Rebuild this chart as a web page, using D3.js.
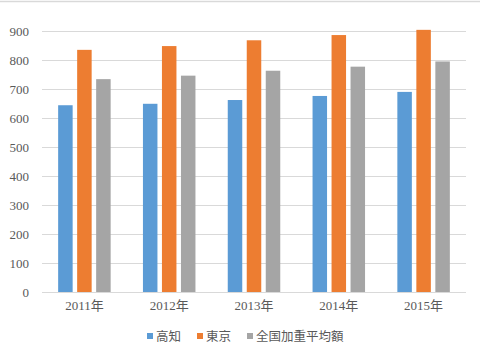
<!DOCTYPE html>
<html><head><meta charset="utf-8">
<script src="https://cdn.jsdelivr.net/npm/d3@7/dist/d3.min.js"></script>
<style>body{margin:0;background:#fff}svg{display:block}</style>
</head><body>
<svg id="c" width="480" height="357"></svg>
<script>
const categories = ["2011年","2012年","2013年","2014年","2015年"];
const seriesNames = ["高知","東京","全国加重平均額"];
const kochi = [644, 649, 662, 676, 690];
const tokyo = [835, 848, 868, 886, 904];
const national = [734, 746, 763, 777, 795];
const yTicks = [0,100,200,300,400,500,600,700,800,900];
const colors = ["#5B9BD5","#ED7D31","#A5A5A5"];
const series = [kochi, tokyo, national];

const svg = d3.select("#c");
const W = 480, H = 357;
const m = {l:42, r:14, t:31, b:65};
const x = d3.scaleBand().domain(categories).range([m.l, W - m.r]).paddingInner(0).paddingOuter(0);
const y = d3.scaleLinear().domain([0,900]).range([H - m.b, m.t]);

svg.append("line").attr("x1",0).attr("x2",W).attr("y1",1.5).attr("y2",1.5)
  .attr("stroke","#d9d9d9").attr("stroke-width",1.5);

const font = "'Liberation Serif', 'Noto Sans CJK JP', serif";

// gridlines
svg.append("g").selectAll("line").data(yTicks).join("line")
  .attr("x1", m.l).attr("x2", W - m.r)
  .attr("y1", d => Math.round(y(d)) + 0.5).attr("y2", d => Math.round(y(d)) + 0.5)
  .attr("stroke","#d9d9d9").attr("stroke-width",1);

// y axis labels
const yAxis = d3.axisLeft(y).tickValues(yTicks).tickSize(0).tickPadding(13);
const ya = svg.append("g").attr("transform",`translate(${m.l},0)`).call(yAxis);
ya.select(".domain").remove();
ya.selectAll("text").attr("font-family",font).attr("font-size","13px").attr("fill","#595959");

// x axis labels
const xAxis = d3.axisBottom(x).tickSize(0).tickPadding(9);
const xa = svg.append("g").attr("transform",`translate(0,${H - m.b})`).call(xAxis);
xa.select(".domain").remove();
xa.selectAll("text").attr("font-family",font).attr("font-size","13px").attr("fill","#595959");

// bars
const bw = x.bandwidth(), groupW = 52.5;
const inner = d3.scaleBand().domain(d3.range(3))
  .range([(bw - groupW) / 2, (bw + groupW) / 2]).paddingInner(0.237).paddingOuter(0);
series.forEach((vals, si) => {
  svg.append("g").selectAll("rect").data(vals).join("rect")
    .attr("x", (d,i) => x(categories[i]) + inner(si))
    .attr("width", inner.bandwidth())
    .attr("y", d => y(d))
    .attr("height", d => y(0) - y(d))
    .attr("fill", colors[si]);
});

// legend
const legendX = [147, 197, 247];
const lg = svg.append("g");
seriesNames.forEach((n, i) => {
  lg.append("rect").attr("x", legendX[i]).attr("y", 333).attr("width", 6).attr("height", 6).attr("fill", colors[i]);
  lg.append("text").attr("x", legendX[i] + 9).attr("y", 340.5).text(n)
    .attr("font-family","'Noto Sans CJK JP', sans-serif").attr("font-size","12.5px").attr("fill","#595959");
});
</script>
</body></html>
